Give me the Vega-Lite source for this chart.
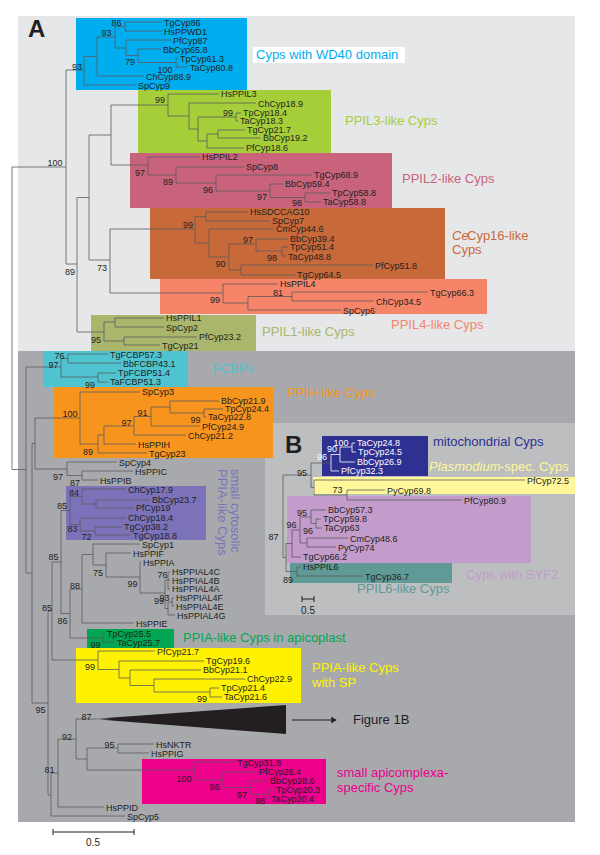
{
"$schema": "https://vega.github.io/schema/vega-lite/v6.json",
"width": 600, "height": 855, "padding": 0,
"autosize": {"type": "fit", "contains": "padding"},
"background": "#ffffff",
"config": {"view": {"stroke": null}},
"datasets": {
"boxes": [
{"g":"bgLight","x":18,"x2":575,"y":16,"y2":351},
{"g":"bgDark","x":18,"x2":575,"y":351,"y2":822},
{"g":"bgB","x":265,"x2":575,"y":423,"y2":615},
{"g":"wd40","x":76,"x2":247,"y":18,"y2":90},
{"g":"wdbox","x":253,"x2":405,"y":47,"y2":63},
{"g":"ppil3","x":138,"x2":331,"y":90,"y2":153},
{"g":"ppil2","x":130,"x2":392,"y":153,"y2":208},
{"g":"ce16","x":150,"x2":445,"y":208,"y2":279},
{"g":"ppil4","x":160,"x2":487,"y":279,"y2":314},
{"g":"ppil1","x":91,"x2":256,"y":315,"y2":351},
{"g":"fcbp","x":43,"x2":188,"y":351,"y2":387},
{"g":"ppih","x":54,"x2":273,"y":387,"y2":458},
{"g":"cyto","x":66,"x2":206,"y":486,"y2":540},
{"g":"apico","x":87,"x2":174,"y":629,"y2":648},
{"g":"sp","x":76,"x2":301,"y":648,"y2":703},
{"g":"mag","x":142,"x2":326,"y":759,"y2":804},
{"g":"syf2","x":287,"x2":531,"y":496,"y2":563},
{"g":"ppil6","x":290,"x2":452,"y":563,"y2":583},
{"g":"plas","x":313,"x2":575,"y":477,"y2":494},
{"g":"mito","x":322,"x2":428,"y":436,"y2":476}
],
"branches": [
{"x":12,"x2":12,"y":167,"y2":469.5},
{"x":12,"x2":66,"y":167,"y2":167},{"x":66,"x2":66,"y":70,"y2":264},
{"x":66,"x2":84,"y":70,"y2":70},{"x":84,"x2":84,"y":56.5,"y2":85},{"x":84,"x2":136,"y":85,"y2":85},
{"x":84,"x2":97,"y":56.5,"y2":56.5},{"x":97,"x2":97,"y":37,"y2":76},{"x":97,"x2":144,"y":76,"y2":76},
{"x":97,"x2":115,"y":37,"y2":37},{"x":115,"x2":115,"y":26.5,"y2":48},
{"x":115,"x2":125,"y":26.5,"y2":26.5},{"x":125,"x2":125,"y":22,"y2":31},{"x":125,"x2":162,"y":22,"y2":22},{"x":125,"x2":162,"y":31,"y2":31},
{"x":115,"x2":126,"y":48,"y2":48},{"x":126,"x2":126,"y":40,"y2":55.5},{"x":126,"x2":171,"y":40,"y2":40},
{"x":126,"x2":138,"y":55.5,"y2":55.5},{"x":138,"x2":138,"y":49,"y2":62.5},{"x":138,"x2":161,"y":49,"y2":49},
{"x":138,"x2":176,"y":62.5,"y2":62.5},{"x":176,"x2":176,"y":58,"y2":67},{"x":176,"x2":178,"y":58,"y2":58},{"x":176,"x2":188,"y":67,"y2":67},
{"x":66,"x2":77,"y":264,"y2":264},{"x":77,"x2":77,"y":197.5,"y2":332},
{"x":77,"x2":89,"y":197.5,"y2":197.5},{"x":89,"x2":89,"y":135,"y2":260},
{"x":89,"x2":111,"y":135,"y2":135},{"x":111,"x2":111,"y":105,"y2":165},
{"x":111,"x2":168,"y":105,"y2":105},{"x":168,"x2":168,"y":94,"y2":116},{"x":168,"x2":219,"y":94,"y2":94},
{"x":168,"x2":189,"y":116,"y2":116},{"x":189,"x2":189,"y":103,"y2":129},{"x":189,"x2":256,"y":103,"y2":103},
{"x":189,"x2":198,"y":129,"y2":129},{"x":198,"x2":198,"y":117,"y2":141},
{"x":198,"x2":236,"y":117,"y2":117},{"x":236,"x2":236,"y":113,"y2":121},{"x":236,"x2":241,"y":113,"y2":113},{"x":236,"x2":238,"y":121,"y2":121},
{"x":198,"x2":207,"y":141,"y2":141},{"x":207,"x2":207,"y":134,"y2":148},{"x":207,"x2":244,"y":148,"y2":148},
{"x":207,"x2":218,"y":134,"y2":134},{"x":218,"x2":218,"y":130,"y2":138},{"x":218,"x2":245,"y":130,"y2":130},{"x":218,"x2":261,"y":138,"y2":138},
{"x":111,"x2":148,"y":165,"y2":165},{"x":148,"x2":148,"y":157,"y2":175},{"x":148,"x2":200,"y":157,"y2":157},
{"x":148,"x2":176,"y":175,"y2":175},{"x":176,"x2":176,"y":167,"y2":183},{"x":176,"x2":244,"y":167,"y2":167},
{"x":176,"x2":216,"y":183,"y2":183},{"x":216,"x2":216,"y":175,"y2":191},{"x":216,"x2":312,"y":175,"y2":175},
{"x":216,"x2":270,"y":191,"y2":191},{"x":270,"x2":270,"y":184,"y2":197.5},{"x":270,"x2":283,"y":184,"y2":184},
{"x":270,"x2":305,"y":197.5,"y2":197.5},{"x":305,"x2":305,"y":193,"y2":202},{"x":305,"x2":330,"y":193,"y2":193},{"x":305,"x2":321,"y":202,"y2":202},
{"x":89,"x2":110,"y":260,"y2":260},{"x":110,"x2":110,"y":229,"y2":293},
{"x":110,"x2":195,"y":229,"y2":229},{"x":195,"x2":195,"y":216.5,"y2":243},
{"x":195,"x2":206,"y":216.5,"y2":216.5},{"x":206,"x2":206,"y":212,"y2":221},{"x":206,"x2":248,"y":212,"y2":212},{"x":206,"x2":270,"y":221,"y2":221},
{"x":195,"x2":209,"y":243,"y2":243},{"x":209,"x2":209,"y":229,"y2":257},{"x":209,"x2":274,"y":229,"y2":229},
{"x":209,"x2":229,"y":257,"y2":257},{"x":229,"x2":229,"y":244,"y2":270},
{"x":229,"x2":256,"y":244,"y2":244},{"x":256,"x2":256,"y":239,"y2":251},{"x":256,"x2":288,"y":239,"y2":239},
{"x":256,"x2":282,"y":251,"y2":251},{"x":282,"x2":282,"y":247,"y2":256},{"x":282,"x2":288,"y":247,"y2":247},{"x":282,"x2":286,"y":256,"y2":256},
{"x":229,"x2":241,"y":270,"y2":270},{"x":241,"x2":241,"y":265,"y2":275},{"x":241,"x2":373,"y":265,"y2":265},{"x":241,"x2":295,"y":275,"y2":275},
{"x":110,"x2":223,"y":293,"y2":293},{"x":223,"x2":223,"y":284,"y2":303},{"x":223,"x2":278,"y":284,"y2":284},
{"x":223,"x2":248,"y":303,"y2":303},{"x":248,"x2":248,"y":296.5,"y2":310},{"x":248,"x2":341,"y":310,"y2":310},
{"x":248,"x2":292,"y":296.5,"y2":296.5},{"x":292,"x2":292,"y":292,"y2":301},{"x":292,"x2":428,"y":292,"y2":292},{"x":292,"x2":374,"y":301,"y2":301},
{"x":77,"x2":104,"y":332,"y2":332},{"x":104,"x2":104,"y":322,"y2":341},
{"x":104,"x2":115,"y":322,"y2":322},{"x":115,"x2":115,"y":318,"y2":327},{"x":115,"x2":164,"y":318,"y2":318},{"x":115,"x2":164,"y":327,"y2":327},
{"x":104,"x2":124,"y":341,"y2":341},{"x":124,"x2":124,"y":337,"y2":345},{"x":124,"x2":197,"y":337,"y2":337},{"x":124,"x2":160,"y":345,"y2":345},
{"x":12,"x2":26,"y":469.5,"y2":469.5},{"x":26,"x2":26,"y":367,"y2":573},
{"x":26,"x2":61,"y":367,"y2":367},{"x":61,"x2":61,"y":358.5,"y2":377},
{"x":61,"x2":68,"y":358.5,"y2":358.5},{"x":68,"x2":68,"y":354,"y2":363},{"x":68,"x2":108,"y":354,"y2":354},{"x":68,"x2":121,"y":363,"y2":363},
{"x":61,"x2":98,"y":377,"y2":377},{"x":98,"x2":98,"y":373,"y2":382},{"x":98,"x2":116,"y":373,"y2":373},{"x":98,"x2":108,"y":382,"y2":382},
{"x":26,"x2":32,"y":573,"y2":573},{"x":32,"x2":32,"y":443.5,"y2":703},
{"x":32,"x2":35,"y":443.5,"y2":443.5},{"x":35,"x2":35,"y":418,"y2":469},
{"x":35,"x2":80,"y":418,"y2":418},{"x":80,"x2":80,"y":392,"y2":444},{"x":80,"x2":140,"y":392,"y2":392},
{"x":80,"x2":98,"y":444,"y2":444},{"x":98,"x2":98,"y":435,"y2":453},{"x":98,"x2":147,"y":453,"y2":453},
{"x":98,"x2":104,"y":435,"y2":435},{"x":104,"x2":104,"y":426,"y2":444},{"x":104,"x2":136,"y":444,"y2":444},
{"x":104,"x2":134,"y":426,"y2":426},{"x":134,"x2":134,"y":416.5,"y2":435},{"x":134,"x2":186,"y":435,"y2":435},
{"x":134,"x2":151,"y":416.5,"y2":416.5},{"x":151,"x2":151,"y":407,"y2":426},{"x":151,"x2":200,"y":426,"y2":426},
{"x":151,"x2":170,"y":407,"y2":407},{"x":170,"x2":170,"y":401,"y2":413},{"x":170,"x2":219,"y":401,"y2":401},
{"x":170,"x2":204,"y":413,"y2":413},{"x":204,"x2":204,"y":409,"y2":417},{"x":204,"x2":223,"y":409,"y2":409},{"x":204,"x2":206,"y":417,"y2":417},
{"x":35,"x2":67,"y":469,"y2":469},{"x":67,"x2":67,"y":462,"y2":475.5},{"x":67,"x2":117,"y":462,"y2":462},
{"x":67,"x2":82,"y":475.5,"y2":475.5},{"x":82,"x2":82,"y":471,"y2":480},{"x":82,"x2":133,"y":471,"y2":471},{"x":82,"x2":98,"y":480,"y2":480},
{"x":32,"x2":48,"y":703,"y2":703},{"x":48,"x2":48,"y":611,"y2":795},
{"x":48,"x2":52,"y":611,"y2":611},{"x":52,"x2":52,"y":562,"y2":660},
{"x":52,"x2":61,"y":562,"y2":562},{"x":61,"x2":61,"y":510.5,"y2":613.5},
{"x":61,"x2":70,"y":510.5,"y2":510.5},{"x":70,"x2":70,"y":496.5,"y2":524.5},
{"x":70,"x2":82,"y":496.5,"y2":496.5},{"x":82,"x2":82,"y":489,"y2":504},{"x":82,"x2":126,"y":489,"y2":489},
{"x":82,"x2":96,"y":504,"y2":504},{"x":96,"x2":96,"y":500,"y2":508},{"x":96,"x2":150,"y":500,"y2":500},{"x":96,"x2":134,"y":508,"y2":508},
{"x":70,"x2":80,"y":524.5,"y2":524.5},{"x":80,"x2":80,"y":518,"y2":531},{"x":80,"x2":126,"y":518,"y2":518},
{"x":80,"x2":95,"y":531,"y2":531},{"x":95,"x2":95,"y":527,"y2":535},{"x":95,"x2":122,"y":527,"y2":527},{"x":95,"x2":131,"y":535,"y2":535},
{"x":61,"x2":70,"y":613.5,"y2":613.5},{"x":70,"x2":70,"y":589,"y2":638},
{"x":70,"x2":82,"y":589,"y2":589},{"x":82,"x2":82,"y":554.5,"y2":623},{"x":82,"x2":134,"y":623,"y2":623},
{"x":82,"x2":93,"y":554.5,"y2":554.5},{"x":93,"x2":93,"y":544,"y2":565},{"x":93,"x2":140,"y":544,"y2":544},
{"x":93,"x2":106,"y":565,"y2":565},{"x":106,"x2":106,"y":553,"y2":577},{"x":106,"x2":131,"y":553,"y2":553},
{"x":106,"x2":140,"y":577,"y2":577},{"x":140,"x2":140,"y":562,"y2":593},{"x":140,"x2":141,"y":562,"y2":562},
{"x":140,"x2":165,"y":593,"y2":593},{"x":165,"x2":165,"y":580,"y2":608.5},
{"x":165,"x2":168,"y":580,"y2":580},{"x":168,"x2":168,"y":572,"y2":589},{"x":168,"x2":170,"y":572,"y2":572},{"x":168,"x2":170,"y":580,"y2":580},{"x":168,"x2":170,"y":589,"y2":589},
{"x":165,"x2":168,"y":608.5,"y2":608.5},{"x":168,"x2":168,"y":602,"y2":615},{"x":168,"x2":175,"y":615,"y2":615},
{"x":168,"x2":172,"y":602,"y2":602},{"x":172,"x2":172,"y":598,"y2":606},{"x":172,"x2":174,"y":598,"y2":598},{"x":172,"x2":174,"y":606,"y2":606},
{"x":70,"x2":103,"y":638,"y2":638},{"x":103,"x2":103,"y":633,"y2":642},{"x":103,"x2":105,"y":633,"y2":633},{"x":103,"x2":115,"y":642,"y2":642},
{"x":52,"x2":98,"y":660,"y2":660},{"x":98,"x2":98,"y":651,"y2":669.5},{"x":98,"x2":155,"y":651,"y2":651},
{"x":98,"x2":119,"y":669.5,"y2":669.5},{"x":119,"x2":119,"y":661,"y2":678},{"x":119,"x2":204,"y":661,"y2":661},
{"x":119,"x2":130,"y":678,"y2":678},{"x":130,"x2":130,"y":670,"y2":685.5},{"x":130,"x2":201,"y":670,"y2":670},
{"x":130,"x2":154,"y":685.5,"y2":685.5},{"x":154,"x2":154,"y":679,"y2":692},{"x":154,"x2":245,"y":679,"y2":679},
{"x":154,"x2":210,"y":692,"y2":692},{"x":210,"x2":210,"y":688,"y2":697},{"x":210,"x2":219,"y":688,"y2":688},{"x":210,"x2":222,"y":697,"y2":697},
{"x":48,"x2":51,"y":795,"y2":795},{"x":51,"x2":51,"y":773,"y2":816},{"x":51,"x2":125,"y":816,"y2":816},
{"x":51,"x2":58,"y":773,"y2":773},{"x":58,"x2":58,"y":739,"y2":807},{"x":58,"x2":104,"y":807,"y2":807},
{"x":58,"x2":76,"y":739,"y2":739},{"x":76,"x2":76,"y":719,"y2":759},{"x":76,"x2":97,"y":719,"y2":719},
{"x":76,"x2":87,"y":759,"y2":759},{"x":87,"x2":87,"y":748,"y2":770},
{"x":87,"x2":118,"y":748,"y2":748},{"x":118,"x2":118,"y":744,"y2":753},{"x":118,"x2":154,"y":744,"y2":744},{"x":118,"x2":149,"y":753,"y2":753},
{"x":87,"x2":195,"y":770,"y2":770},{"x":195,"x2":195,"y":762,"y2":780},{"x":195,"x2":235,"y":762,"y2":762},
{"x":195,"x2":223,"y":780,"y2":780},{"x":223,"x2":223,"y":772,"y2":787.5},{"x":223,"x2":257,"y":772,"y2":772},
{"x":223,"x2":251,"y":787.5,"y2":787.5},{"x":251,"x2":251,"y":781,"y2":794.5},{"x":251,"x2":268,"y":781,"y2":781},
{"x":251,"x2":268,"y":794.5,"y2":794.5},{"x":268,"x2":268,"y":790,"y2":799},{"x":268,"x2":274,"y":790,"y2":790},{"x":268,"x2":269,"y":799,"y2":799},
{"x":283,"x2":283,"y":475,"y2":557.5},
{"x":283,"x2":311,"y":475,"y2":475},{"x":311,"x2":311,"y":463,"y2":487.5},
{"x":311,"x2":331,"y":463,"y2":463},
{"x":311,"x2":314,"y":487.5,"y2":487.5},{"x":314,"x2":314,"y":480,"y2":495},{"x":314,"x2":525,"y":480,"y2":480},
{"x":314,"x2":347,"y":495,"y2":495},{"x":347,"x2":347,"y":490,"y2":500},{"x":347,"x2":385,"y":490,"y2":490},{"x":347,"x2":462,"y":500,"y2":500},
{"x":283,"x2":286,"y":557.5,"y2":557.5},{"x":286,"x2":286,"y":543.5,"y2":571.5},
{"x":286,"x2":292,"y":543.5,"y2":543.5},{"x":292,"x2":292,"y":530,"y2":557},{"x":292,"x2":301,"y":557,"y2":557},
{"x":292,"x2":300,"y":530,"y2":530},{"x":300,"x2":300,"y":517,"y2":543},
{"x":300,"x2":311,"y":517,"y2":517},{"x":311,"x2":311,"y":510,"y2":523.5},{"x":311,"x2":326,"y":510,"y2":510},
{"x":311,"x2":316,"y":523.5,"y2":523.5},{"x":316,"x2":316,"y":519,"y2":528},{"x":316,"x2":321,"y":519,"y2":519},{"x":316,"x2":322,"y":528,"y2":528},
{"x":300,"x2":307,"y":543,"y2":543},{"x":307,"x2":307,"y":538,"y2":547},{"x":307,"x2":348,"y":538,"y2":538},{"x":307,"x2":336,"y":547,"y2":547},
{"x":286,"x2":297,"y":571.5,"y2":571.5},{"x":297,"x2":297,"y":567,"y2":576},{"x":297,"x2":301,"y":567,"y2":567},{"x":297,"x2":363,"y":576,"y2":576}
],
"branchesW": [
{"x":331,"x2":331,"y":454.5,"y2":471},{"x":331,"x2":339,"y":471,"y2":471},{"x":331,"x2":340,"y":454.5,"y2":454.5},
{"x":340,"x2":340,"y":447,"y2":462},{"x":340,"x2":355,"y":462,"y2":462},{"x":340,"x2":352,"y":447,"y2":447},
{"x":352,"x2":352,"y":443,"y2":452},{"x":352,"x2":355,"y":443,"y2":443},{"x":352,"x2":356,"y":452,"y2":452}
],
"bars": [
{"x":53,"x2":134,"y":832,"y2":832},{"x":53,"x2":53,"y":829,"y2":835},{"x":134,"x2":134,"y":829,"y2":835},
{"x":302,"x2":314,"y":599,"y2":599},{"x":302,"x2":302,"y":596,"y2":602},{"x":314,"x2":314,"y":596,"y2":602},
{"x":292,"x2":331,"y":720,"y2":720}
],
"tri": [{"x":92,"y":719,"y2":719},{"x":286,"y":705,"y2":734}],
"arrowhead": [{"x":334,"y":720}],
"leaves": [
{"n":"TgCyp86","x":164,"y":23},{"n":"HsPPWD1","x":164,"y":32},{"n":"PfCyp87","x":173,"y":41},{"n":"BbCyp65.8","x":163,"y":50},{"n":"TpCyp61.3","x":180,"y":59},{"n":"TaCyp60.8","x":190,"y":68},{"n":"ChCyp88.9","x":146,"y":77},{"n":"SpCyp9","x":138,"y":86},
{"n":"HsPPIL3","x":221,"y":94},{"n":"ChCyp18.9","x":258,"y":104},{"n":"TpCyp18.4","x":243,"y":113},{"n":"TaCyp18.3","x":240,"y":121},{"n":"TgCyp21.7","x":247,"y":130},{"n":"BbCyp19.2","x":263,"y":138},{"n":"PfCyp18.6","x":246,"y":148},
{"n":"HsPPIL2","x":202,"y":157},{"n":"SpCyp8","x":246,"y":167},{"n":"TgCyp68.9","x":314,"y":175},{"n":"BbCyp59.4","x":285,"y":184},{"n":"TpCyp58.8","x":332,"y":193},{"n":"TaCyp58.8","x":323,"y":202},
{"n":"HsSDCCAG10","x":250,"y":212},{"n":"SpCyp7","x":272,"y":221},{"n":"CmCyp44.6","x":276,"y":229},{"n":"BbCyp39.4","x":290,"y":239},{"n":"TpCyp51.4","x":290,"y":247},{"n":"TaCyp48.8","x":288,"y":257},{"n":"PfCyp51.8","x":375,"y":266},{"n":"TgCyp64.5","x":297,"y":275},
{"n":"HsPPIL4","x":280,"y":284},{"n":"TgCyp66.3","x":430,"y":293},{"n":"ChCyp34.5","x":376,"y":302},{"n":"SpCyp6","x":343,"y":311},
{"n":"HsPPIL1","x":166,"y":318},{"n":"SpCyp2","x":166,"y":328},{"n":"PfCyp23.2","x":199,"y":337},{"n":"TgCyp21","x":162,"y":346},
{"n":"TgFCBP57.3","x":110,"y":355},{"n":"BbFCBP43.1","x":123,"y":364},{"n":"TpFCBP51.4","x":118,"y":373},{"n":"TaFCBP51.3","x":110,"y":382},
{"n":"SpCyp3","x":142,"y":392},{"n":"BbCyp21.9","x":221,"y":401},{"n":"TpCyp24.4","x":225,"y":409},{"n":"TaCyp22.8","x":208,"y":417},{"n":"PfCyp24.9","x":202,"y":427},{"n":"ChCyp21.2","x":188,"y":436},{"n":"HsPPIH","x":138,"y":445},{"n":"TgCyp23","x":149,"y":454},
{"n":"SpCyp4","x":119,"y":463},{"n":"HsPPIC","x":135,"y":472},{"n":"HsPPIB","x":100,"y":481},
{"n":"ChCyp17.9","x":128,"y":490},{"n":"BbCyp23.7","x":152,"y":500},{"n":"PfCyp19","x":136,"y":508},{"n":"ChCyp18.4","x":128,"y":518},{"n":"TgCyp38.2","x":124,"y":527},{"n":"TgCyp18.8","x":133,"y":536},
{"n":"SpCyp1","x":142,"y":545},{"n":"HsPPIF","x":133,"y":554},{"n":"HsPPIA","x":143,"y":563},{"n":"HsPPIAL4C","x":172,"y":572},{"n":"HsPPIAL4B","x":172,"y":580.5},{"n":"HsPPIAL4A","x":172,"y":589},{"n":"HsPPIAL4F","x":176,"y":598},{"n":"HsPPIAL4E","x":176,"y":607},{"n":"HsPPIAL4G","x":177,"y":616},{"n":"HsPPIE","x":136,"y":624},
{"n":"TpCyp25.5","x":107,"y":634},{"n":"TaCyp25.7","x":117,"y":643},
{"n":"PfCyp21.7","x":157,"y":652},{"n":"TgCyp19.6","x":206,"y":661},{"n":"BbCyp21.1","x":203,"y":670},{"n":"ChCyp22.9","x":247,"y":679},{"n":"TpCyp21.4","x":221,"y":688},{"n":"TaCyp21.6","x":224,"y":697},
{"n":"HsNKTR","x":156,"y":745},{"n":"HsPPIG","x":151,"y":754},{"n":"TgCyp31.8","x":237,"y":763},{"n":"PfCyp26.4","x":259,"y":772},{"n":"BbCyp28.6","x":270,"y":781},{"n":"TpCyp20.3","x":276,"y":790},{"n":"TaCyp20.4","x":271,"y":799},{"n":"HsPPID","x":106,"y":808},{"n":"SpCyp5","x":127,"y":817},
{"n":"PfCyp72.5","x":527,"y":481},{"n":"PyCyp69.8","x":387,"y":491},{"n":"PfCyp80.9","x":464,"y":501},{"n":"BbCyp57.3","x":328,"y":510},{"n":"TpCyp59.8","x":323,"y":519},{"n":"TaCyp63","x":324,"y":528},{"n":"CmCyp48.6","x":350,"y":539},{"n":"PyCyp74","x":338,"y":548},{"n":"TgCyp66.2","x":303,"y":557},{"n":"HsPPIL6","x":303,"y":567},{"n":"TgCyp36.7","x":365,"y":577}
],
"leavesW": [
{"n":"TaCyp24.8","x":357,"y":443},{"n":"TpCyp24.5","x":358,"y":452},{"n":"BbCyp26.9","x":357,"y":462},{"n":"PfCyp32.3","x":341,"y":471}
],
"boots": [
{"n":"86","x":116.5,"y":23},{"n":"93","x":106.5,"y":33},{"n":"79","x":130,"y":62},{"n":"100","x":165,"y":69.5},{"n":"93","x":77,"y":67},{"n":"99","x":160,"y":100},{"n":"99","x":228,"y":113},{"n":"100","x":55,"y":163},{"n":"97","x":140,"y":173},{"n":"89","x":168,"y":182},{"n":"96","x":208,"y":190},{"n":"97","x":262,"y":197},{"n":"98","x":297,"y":203},{"n":"99","x":188,"y":225},{"n":"97","x":248,"y":240},{"n":"98","x":272,"y":258},{"n":"90","x":220.5,"y":264},{"n":"89","x":70,"y":272},{"n":"73","x":102,"y":268},{"n":"99","x":215,"y":300},{"n":"81","x":278,"y":293},{"n":"95","x":96,"y":340},
{"n":"76","x":59.5,"y":356},{"n":"97","x":53.5,"y":365},{"n":"99","x":90,"y":385},{"n":"100","x":70,"y":414},{"n":"91","x":142.5,"y":413},{"n":"97","x":126.5,"y":423},{"n":"99","x":195.5,"y":420},{"n":"89","x":88,"y":452},{"n":"97","x":58,"y":477},{"n":"87","x":75,"y":483},{"n":"84","x":74,"y":493},{"n":"85","x":62,"y":506},{"n":"83","x":72.5,"y":529},{"n":"72","x":86.5,"y":537},{"n":"85","x":53.5,"y":557},{"n":"75","x":98,"y":573},{"n":"76","x":162.5,"y":575},{"n":"88","x":75,"y":586},{"n":"99","x":132.5,"y":584},{"n":"93","x":164.5,"y":598},{"n":"99","x":159,"y":601},{"n":"85","x":47,"y":608},{"n":"86","x":62.5,"y":621},{"n":"99","x":95.5,"y":645},{"n":"99","x":90,"y":667},{"n":"99","x":202,"y":699},{"n":"95","x":40.5,"y":710},{"n":"87","x":86.5,"y":717},{"n":"92","x":67,"y":737},{"n":"95","x":109.5,"y":745},{"n":"81","x":49.5,"y":770},{"n":"100","x":184,"y":779},{"n":"96","x":214.5,"y":787},{"n":"97","x":242,"y":795},{"n":"98","x":260,"y":801},
{"n":"95","x":302,"y":473},{"n":"73","x":337.5,"y":490},{"n":"95","x":302,"y":513},{"n":"96","x":291.5,"y":525},{"n":"96","x":308,"y":531},{"n":"87","x":273.5,"y":537},{"n":"89","x":288,"y":580}
],
"bootsW": [
{"n":"100","x":341,"y":443},{"n":"90","x":332,"y":449},{"n":"96","x":322,"y":457}
],
"labels": [
{"n":"Cyps with WD40 domain","x":256,"y":55,"g":"wd40"},
{"n":"PPIL3-like Cyps","x":345,"y":121,"g":"ppil3"},
{"n":"PPIL2-like Cyps","x":402,"y":179,"g":"ppil2"},
{"n":"Cyp16-like","x":467,"y":236,"g":"ce16"},
{"n":"Cyps","x":452,"y":250,"g":"ce16"},
{"n":"PPIL4-like Cyps","x":391,"y":325,"g":"ppil4"},
{"n":"PPIL1-like Cyps","x":262,"y":332,"g":"ppil1"},
{"n":"FCBPs","x":213,"y":369,"g":"fcbp"},
{"n":"PPIH-like Cyps","x":287,"y":393,"g":"ppih"},
{"n":"PPIA-like Cyps in apicoplast","x":183,"y":638,"g":"apico"},
{"n":"PPIA-like Cyps","x":312,"y":668,"g":"sp"},
{"n":"with SP","x":312,"y":683,"g":"sp"},
{"n":"small apicomplexa-","x":337,"y":773,"g":"mag"},
{"n":"specific Cyps","x":337,"y":788,"g":"mag"},
{"n":"Figure 1B","x":353,"y":720,"g":"ink"},
{"n":"mitochondrial Cyps","x":433,"y":442,"g":"mito"},
{"n":"-spec. Cyps","x":500,"y":467,"g":"plas"},
{"n":"Cyps with SYF2","x":466,"y":575,"g":"syf2"},
{"n":"PPIL6-like Cyps","x":357,"y":589,"g":"ppil6"}
],
"labelsItalic": [
{"n":"Ce","x":452,"y":236,"g":"ce16"},
{"n":"Plasmodium","x":429,"y":467,"g":"plas"}
],
"labelsRot": [
{"n":"small cytosolic","x":235,"y":469,"g":"cyto"},
{"n":"PPIA-like Cyps","x":222,"y":469,"g":"cyto"}
],
"letters": [{"n":"A","x":28,"y":37},{"n":"B","x":285,"y":453}],
"scaleText": [{"n":"0.5","x":93,"y":843},{"n":"0.5","x":308,"y":611}]
},
"encoding": {
"x": {"field":"x","type":"quantitative","scale":{"domain":[0,600],"nice":false,"zero":false},"axis":null},
"y": {"field":"y","type":"quantitative","scale":{"domain":[0,855],"nice":false,"zero":false,"reverse":true},"axis":null}
},
"layer": [
{"data":{"name":"boxes"},"mark":{"type":"rect"},
 "encoding":{"x2":{"field":"x2"},"y2":{"field":"y2"},
  "color":{"field":"g","type":"nominal","legend":null,"scale":{"domain":["bgLight","bgDark","bgB","wd40","wdbox","ppil3","ppil2","ce16","ppil4","ppil1","fcbp","ppih","cyto","apico","sp","mag","mito","plas","syf2","ppil6","ink"],"range":["#e6e7e8","#a7a9ac","#bcbec0","#00aeef","#ffffff","#a6ce39","#c9637c","#c8693a","#f58468","#a9b66b","#4fc3d0","#f7941d","#7b72ba","#00a651","#fff200","#ec008c","#2e3192","#fff799","#c49ccb","#5f9a96","#231f20"]}}}},
{"data":{"name":"branches"},"mark":{"type":"rule","strokeWidth":0.8,"color":"#5a5b5d"},
 "encoding":{"x2":{"field":"x2"},"y2":{"field":"y2"}}},
{"data":{"name":"branchesW"},"mark":{"type":"rule","strokeWidth":0.8,"color":"#ffffff"},
 "encoding":{"x2":{"field":"x2"},"y2":{"field":"y2"}}},
{"data":{"name":"bars"},"mark":{"type":"rule","strokeWidth":1,"color":"#231f20"},
 "encoding":{"x2":{"field":"x2"},"y2":{"field":"y2"}}},
{"data":{"name":"tri"},"mark":{"type":"area","orient":"vertical","color":{"gradient":"linear","x1":0,"y1":0,"x2":1,"y2":0,"stops":[{"offset":0,"color":"#a7a9ac"},{"offset":0.1,"color":"#231f20"},{"offset":1,"color":"#231f20"}]}},
 "encoding":{"y2":{"field":"y2"}}},
{"data":{"name":"arrowhead"},"mark":{"type":"point","shape":"triangle-right","filled":true,"size":45,"color":"#231f20","opacity":1},"encoding":{}},
{"data":{"name":"leaves"},"mark":{"type":"text","align":"left","baseline":"middle","font":"Liberation Sans","fontSize":9,"color":"#231f20"},
 "encoding":{"text":{"field":"n"}}},
{"data":{"name":"leavesW"},"mark":{"type":"text","align":"left","baseline":"middle","font":"Liberation Sans","fontSize":9,"color":"#ffffff"},
 "encoding":{"text":{"field":"n"}}},
{"data":{"name":"boots"},"mark":{"type":"text","align":"center","baseline":"middle","font":"Liberation Sans","fontSize":9,"color":"#231f20"},
 "encoding":{"text":{"field":"n"}}},
{"data":{"name":"bootsW"},"mark":{"type":"text","align":"center","baseline":"middle","font":"Liberation Sans","fontSize":9,"color":"#ffffff"},
 "encoding":{"text":{"field":"n"}}},
{"data":{"name":"labels"},"mark":{"type":"text","align":"left","baseline":"middle","font":"Liberation Sans","fontSize":13},
 "encoding":{"text":{"field":"n"},
  "color":{"field":"g","type":"nominal","legend":null,"scale":{"domain":["bgLight","bgDark","bgB","wd40","wdbox","ppil3","ppil2","ce16","ppil4","ppil1","fcbp","ppih","cyto","apico","sp","mag","mito","plas","syf2","ppil6","ink"],"range":["#e6e7e8","#a7a9ac","#bcbec0","#00aeef","#ffffff","#a6ce39","#c9637c","#c8693a","#f58468","#a9b66b","#4fc3d0","#f7941d","#7b72ba","#00a651","#fff200","#ec008c","#2e3192","#fff799","#c49ccb","#5f9a96","#231f20"]}}}},
{"data":{"name":"labelsItalic"},"mark":{"type":"text","align":"left","baseline":"middle","font":"Liberation Sans","fontSize":13,"fontStyle":"italic"},
 "encoding":{"text":{"field":"n"},
  "color":{"field":"g","type":"nominal","legend":null,"scale":{"domain":["bgLight","bgDark","bgB","wd40","wdbox","ppil3","ppil2","ce16","ppil4","ppil1","fcbp","ppih","cyto","apico","sp","mag","mito","plas","syf2","ppil6","ink"],"range":["#e6e7e8","#a7a9ac","#bcbec0","#00aeef","#ffffff","#a6ce39","#c9637c","#c8693a","#f58468","#a9b66b","#4fc3d0","#f7941d","#7b72ba","#00a651","#fff200","#ec008c","#2e3192","#fff799","#c49ccb","#5f9a96","#231f20"]}}}},
{"data":{"name":"labelsRot"},"mark":{"type":"text","align":"left","baseline":"middle","font":"Liberation Sans","fontSize":13,"angle":90},
 "encoding":{"text":{"field":"n"},
  "color":{"field":"g","type":"nominal","legend":null,"scale":{"domain":["bgLight","bgDark","bgB","wd40","wdbox","ppil3","ppil2","ce16","ppil4","ppil1","fcbp","ppih","cyto","apico","sp","mag","mito","plas","syf2","ppil6","ink"],"range":["#e6e7e8","#a7a9ac","#bcbec0","#00aeef","#ffffff","#a6ce39","#c9637c","#c8693a","#f58468","#a9b66b","#4fc3d0","#f7941d","#7b72ba","#00a651","#fff200","#ec008c","#2e3192","#fff799","#c49ccb","#5f9a96","#231f20"]}}}},
{"data":{"name":"letters"},"mark":{"type":"text","align":"left","baseline":"alphabetic","font":"Liberation Sans","fontSize":24,"fontWeight":"bold","color":"#231f20"},
 "encoding":{"text":{"field":"n"}}},
{"data":{"name":"scaleText"},"mark":{"type":"text","align":"center","baseline":"middle","font":"Liberation Sans","fontSize":10,"color":"#231f20"},
 "encoding":{"text":{"field":"n"}}}
]
}
